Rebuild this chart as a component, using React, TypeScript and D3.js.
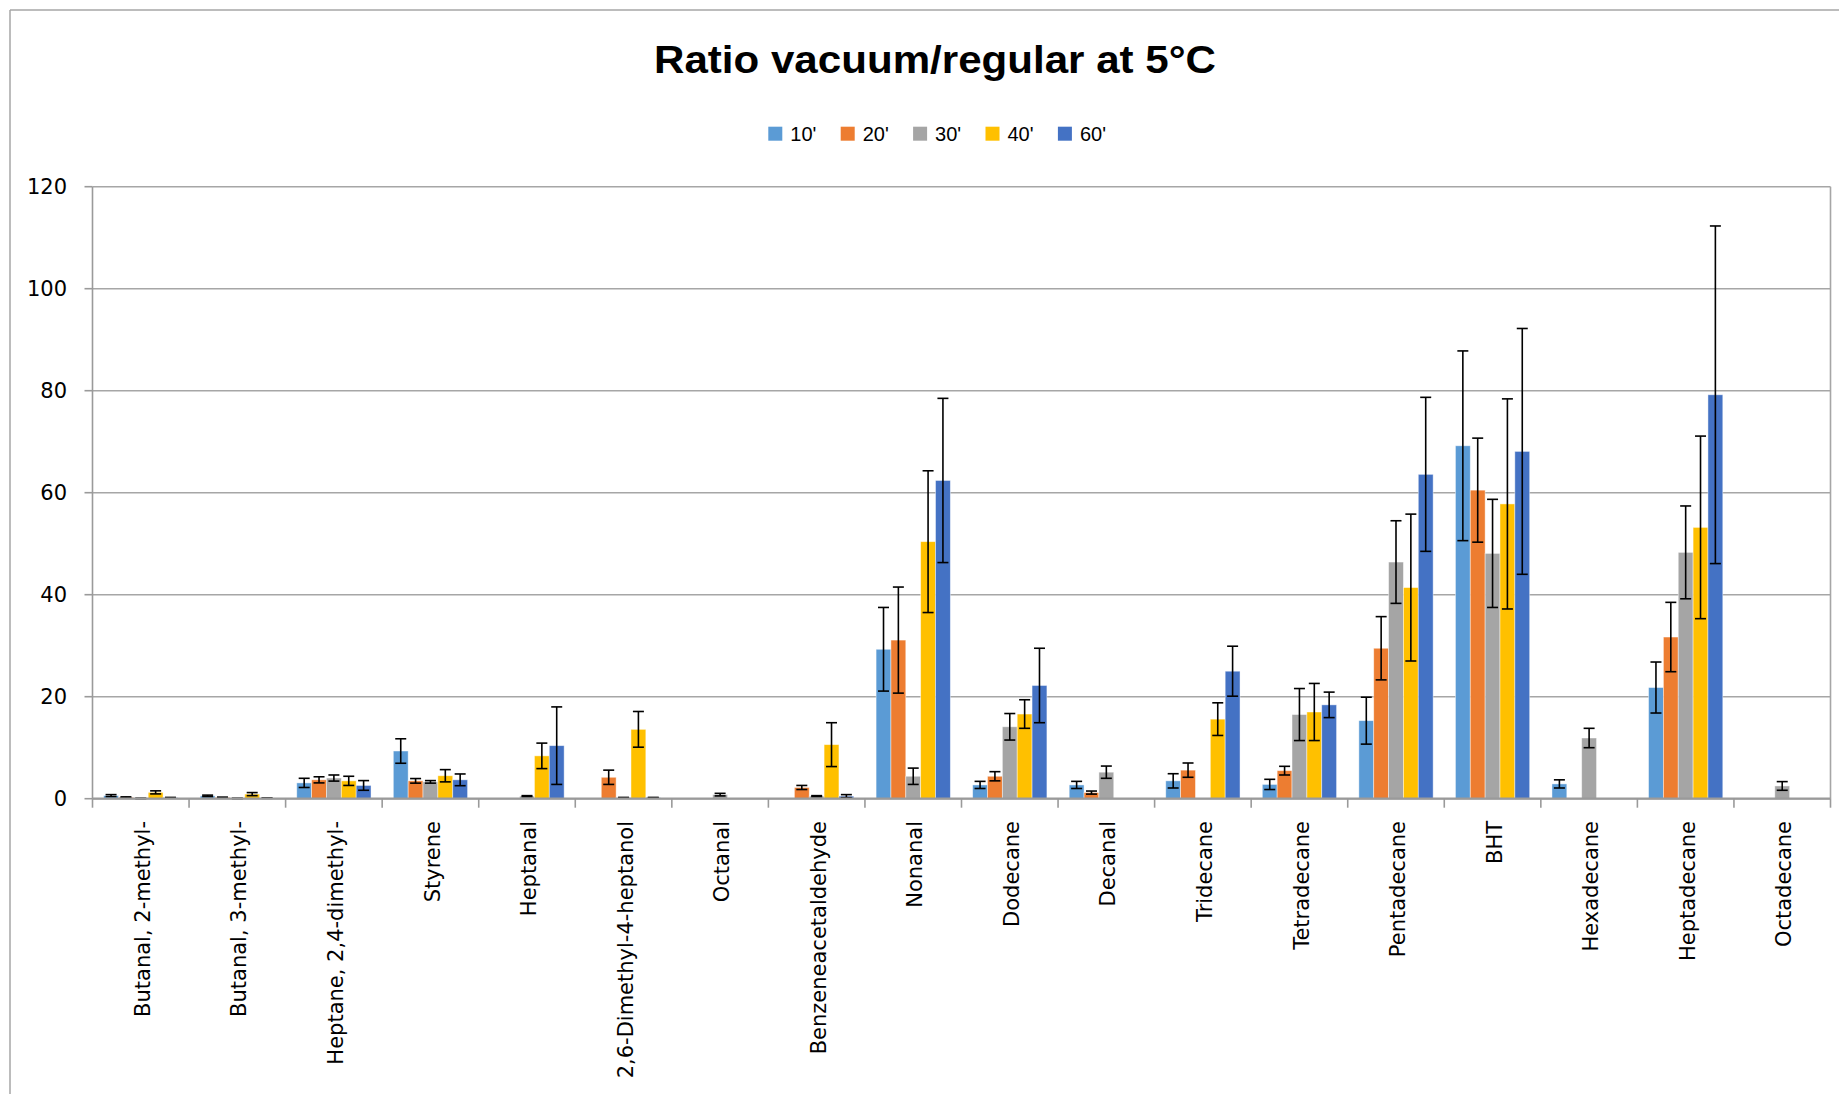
import React from "react";
import * as d3 from "d3";

const categories = [
  "Butanal, 2-methyl-",
  "Butanal, 3-methyl-",
  "Heptane, 2,4-dimethyl-",
  "Styrene",
  "Heptanal",
  "2,6-Dimethyl-4-heptanol",
  "Octanal",
  "Benzeneacetaldehyde",
  "Nonanal",
  "Dodecane",
  "Decanal",
  "Tridecane",
  "Tetradecane",
  "Pentadecane",
  "BHT",
  "Hexadecane",
  "Heptadecane",
  "Octadecane",
];

const seriesNames = ["10'", "20'", "30'", "40'", "60'"];
const seriesColors = ["#5B9BD5", "#ED7D31", "#A5A5A5", "#FFC000", "#4472C4"];

const values10 = [0.6, 0.55, 3.1, 9.35, 0, 0, 0, 0, 29.3, 2.7, 2.7, 3.5, 2.8, 15.3, 69.2, 2.9, 21.8, 0];
const errors10 = [0.2, 0.15, 0.9, 2.4, 0, 0, 0, 0, 8.2, 0.7, 0.7, 1.4, 1.0, 4.6, 18.6, 0.8, 5.0, 0];
const values20 = [0.26, 0.25, 3.7, 3.5, 0, 4.2, 0, 2.2, 31.1, 4.4, 1.2, 5.6, 5.5, 29.5, 60.5, 0, 31.7, 0];
const errors20 = [0.1, 0.05, 0.6, 0.45, 0, 1.4, 0, 0.4, 10.4, 0.9, 0.3, 1.4, 0.85, 6.2, 10.2, 0, 6.8, 0];
const values30 = [0.05, 0.05, 4.05, 3.3, 0.5, 0.2, 0.8, 0.5, 4.4, 14.1, 5.2, 0, 16.5, 46.4, 48.1, 11.9, 48.3, 2.5];
const errors30 = [0.02, 0.02, 0.6, 0.25, 0.1, 0.05, 0.25, 0.1, 1.6, 2.6, 1.2, 0, 5.1, 8.1, 10.6, 1.9, 9.1, 0.85];
const values40 = [1.24, 0.9, 3.5, 4.5, 8.4, 13.6, 0, 10.6, 50.4, 16.6, 0, 15.6, 17.0, 41.4, 57.8, 0, 53.2, 0];
const errors40 = [0.3, 0.3, 0.9, 1.2, 2.5, 3.5, 0, 4.3, 13.9, 2.8, 0, 3.2, 5.6, 14.4, 20.6, 0, 17.9, 0];
const values60 = [0.2, 0.1, 2.6, 3.7, 10.4, 0.2, 0, 0.5, 62.4, 22.2, 0, 25.0, 18.4, 63.6, 68.1, 0, 79.2, 0];
const errors60 = [0.05, 0.02, 0.95, 1.15, 7.6, 0.05, 0, 0.3, 16.1, 7.3, 0, 4.9, 2.5, 15.1, 24.1, 0, 33.1, 0];

const yTicks = [0, 20, 40, 60, 80, 100, 120];

const allValues = [values10, values20, values30, values40, values60];
const allErrors = [errors10, errors20, errors30, errors40, errors60];

const W = 1839;
const H = 1094;
const plotLeft = 92.5;
const plotRight = 1830.5;
const plotTop = 186.7;
const plotBottom = 798.7;

export default function App() {
  const x = d3.scaleBand<string>().domain(categories).range([plotLeft, plotRight]).paddingInner(0).paddingOuter(0);
  const bw = x.bandwidth();
  const barW = bw / 6.5;
  const inner = d3
    .scaleBand<string>()
    .domain(seriesNames)
    .range([0.75 * barW, bw - 0.75 * barW])
    .paddingInner(0)
    .paddingOuter(0);
  const y = d3.scaleLinear().domain([0, 120]).range([plotBottom, plotTop]);

  const labelFont = "'DejaVu Sans', Verdana, sans-serif";
  const titleFont = "'Liberation Sans', Arial, sans-serif";

  const legendX0 = 768.3;
  const legendStep = 72.4;

  return (
    <svg
      width={W}
      height={H}
      style={{ position: "absolute", left: 0, top: 0, background: "#fff" }}
      xmlns="http://www.w3.org/2000/svg"
    >
      <rect x={0} y={0} width={W} height={H} fill="#fff" />
      {/* chart border */}
      <line x1={10} y1={10} x2={W} y2={10} stroke="#A6A6A6" strokeWidth={1.5} />
      <line x1={10} y1={10} x2={10} y2={H} stroke="#A6A6A6" strokeWidth={1.5} />

      {/* title */}
      <text
        x={935}
        y={73}
        textAnchor="middle"
        fontFamily={titleFont}
        fontWeight="bold"
        fontSize={39}
        textLength={562}
        lengthAdjust="spacingAndGlyphs"
        fill="#000"
      >
        Ratio vacuum/regular at 5°C
      </text>

      {/* legend */}
      {seriesNames.map((s, i) => (
        <g key={s} transform={`translate(${legendX0 + i * legendStep},0)`}>
          <rect x={0} y={126.7} width={14} height={14} fill={seriesColors[i]} />
          <text x={22} y={140.7} fontFamily={titleFont} fontSize={20} fill="#000">
            {s}
          </text>
        </g>
      ))}

      {/* gridlines */}
      {yTicks.map((t) => (
        <line key={t} x1={plotLeft} x2={plotRight} y1={y(t)} y2={y(t)} stroke="#A6A6A6" strokeWidth={1.6} />
      ))}
      {/* plot border right */}
      <line x1={plotRight} x2={plotRight} y1={plotTop} y2={plotBottom} stroke="#A6A6A6" strokeWidth={1.6} />

      {/* y axis */}
      <line x1={plotLeft} x2={plotLeft} y1={plotTop} y2={plotBottom} stroke="#9A9A9A" strokeWidth={1.6} />
      {yTicks.map((t) => (
        <g key={"yt" + t}>
          <line x1={plotLeft - 8} x2={plotLeft} y1={y(t)} y2={y(t)} stroke="#9A9A9A" strokeWidth={1.6} />
          <text
            x={67}
            y={y(t)}
            dy="0.36em"
            textAnchor="end"
            fontFamily={labelFont}
            fontSize={21}
            fill="#000"
          >
            {t}
          </text>
        </g>
      ))}

      {/* bars */}
      {allValues.map((vals, si) =>
        vals.map((v, ci) => {
          if (v <= 0) return null;
          const bx = (x(categories[ci]) as number) + (inner(seriesNames[si]) as number);
          return (
            <rect
              key={`b${si}-${ci}`}
              x={bx}
              y={y(v)}
              width={inner.bandwidth()}
              height={plotBottom - y(v)}
              fill={seriesColors[si]}
              stroke="#ffffff"
              strokeOpacity={0.55}
              strokeWidth={0.8}
            />
          );
        })
      )}

      {/* error bars */}
      {allValues.map((vals, si) =>
        vals.map((v, ci) => {
          const e = allErrors[si][ci];
          if (v <= 0 || e <= 0) return null;
          const cx = (x(categories[ci]) as number) + (inner(seriesNames[si]) as number) + inner.bandwidth() / 2;
          const yt = y(v + e);
          const yb = y(Math.max(0, v - e));
          const cap = 5.5;
          return (
            <g key={`e${si}-${ci}`} stroke="#000" strokeWidth={1.6}>
              <line x1={cx} x2={cx} y1={yt} y2={yb} />
              <line x1={cx - cap} x2={cx + cap} y1={yt} y2={yt} />
              <line x1={cx - cap} x2={cx + cap} y1={yb} y2={yb} />
            </g>
          );
        })
      )}

      {/* x axis */}
      <line x1={plotLeft} x2={plotRight} y1={plotBottom} y2={plotBottom} stroke="#9A9A9A" strokeWidth={2.2} />
      {d3.range(categories.length + 1).map((i) => {
        const xx = plotLeft + i * bw;
        return (
          <line key={"xt" + i} x1={xx} x2={xx} y1={plotBottom} y2={plotBottom + 9} stroke="#9A9A9A" strokeWidth={1.6} />
        );
      })}
      {categories.map((c) => {
        const cx = (x(c) as number) + bw / 2;
        return (
          <text
            key={"cl" + c}
            transform={`translate(${cx + 1.5},821) rotate(-90)`}
            textAnchor="end"
            dy="0.36em"
            fontFamily={labelFont}
            fontSize={21}
            fill="#000"
          >
            {c}
          </text>
        );
      })}
    </svg>
  );
}
